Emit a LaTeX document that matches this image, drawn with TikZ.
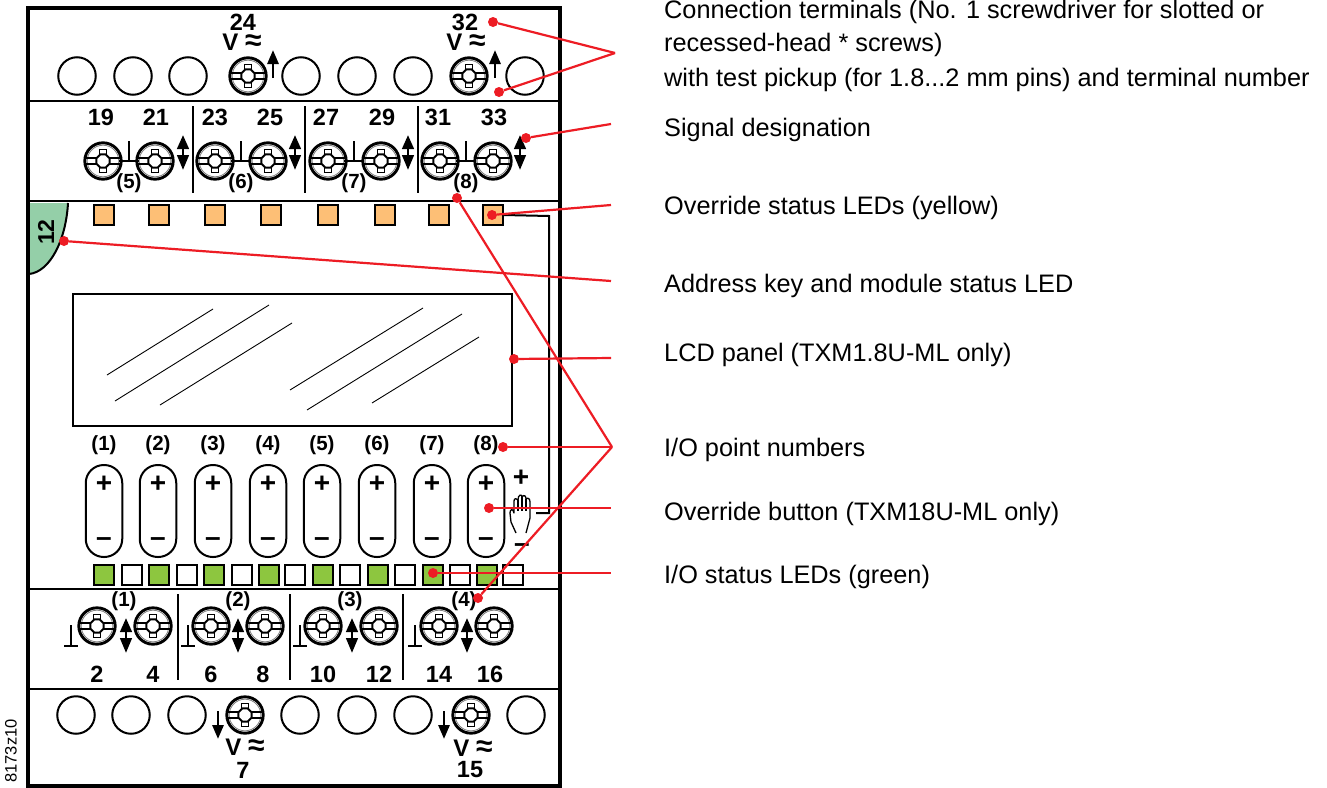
\documentclass[tikz,border=0pt]{standalone}
\usepackage{fontspec}
\setmainfont{Liberation Sans}
\usepackage{amsmath, amssymb}
\usetikzlibrary{arrows.meta}
\definecolor{ledorange}{HTML}{FDBF76}
\definecolor{ledgreen}{HTML}{8DC63F}
\definecolor{keygreen}{HTML}{94CFA8}
\definecolor{callred}{HTML}{ED1C24}
\newcommand{\vac}{\fontsize{24}{24}\selectfont V {\fontsize{30}{30}\selectfont≈}}
\begin{document}
\begin{tikzpicture}[
  x=1pt,y=-1pt,
  num/.style={inner sep=0pt,font=\fontsize{23.5}{24}\selectfont\bfseries},
  pnum/.style={inner sep=0pt,font=\fontsize{20.5}{24}\selectfont\bfseries},
  legend/.style={inner sep=0pt,anchor=base west,font=\fontsize{25.3}{28}\selectfont},
  sign/.style={inner sep=0pt,font=\fontsize{28}{28}\selectfont\bfseries},
  hole/.style={circle,draw,line width=2pt,minimum size=37.5pt,inner sep=0pt},
  led/.style={rectangle,draw,line width=1.9pt,minimum size=19.5pt,inner sep=0pt,fill=#1},
  led/.default=white,
  btn/.style={rectangle,rounded corners=18pt,draw,line width=2pt,minimum width=36.5pt,minimum height=92pt,inner sep=0pt},
  wall/.style={line width=2.2pt},
  up/.style={line width=2.8pt,-{Triangle[width=11pt,length=14pt]}},
  updown/.style={line width=2.8pt,{Triangle[width=11.5pt,length=14pt]}-{Triangle[width=11.5pt,length=15pt]}},
  rdot/.style={circle,fill=callred,inner sep=0pt,minimum size=10pt},
  leader/.style={callred,line width=2.2pt},
  screw/.pic={
    \draw[line width=2.9pt,fill=white] (0,0) circle (18.2pt);
    \draw[line width=.8pt,gray] (0,0) circle (15.8pt);
    \draw[line width=1.7pt] (-17,-3.2) -- (17,-3.2) (-17,3.2) -- (17,3.2);
    \draw[line width=1.5pt,fill=white] (-3.6,-11.5) rectangle (3.6,11.5);
    \draw[line width=1.9pt,fill=white] (-2.6,-6.6) -- (2.6,-6.6) -- (6.6,-2.6) -- (6.6,2.6) -- (2.6,6.6) -- (-2.6,6.6) -- (-6.6,2.6) -- (-6.6,-2.6) -- cycle;
  }
  ]
\useasboundingbox (0,0) rectangle (1327,787);
\fill[white] (0,0) rectangle (1327,787);

\fill[keygreen] (29,203) -- (68,203) .. controls (66,240) and (50,272) .. (29,274) -- cycle;
\draw[line width=2pt] (68,203) .. controls (66,240) and (50,272) .. (29,274);
\node[inner sep=0pt,rotate=90,font=\fontsize{23}{24}\selectfont\bfseries] (keyno) at (46,232) {12};

\draw[line width=3.2pt] (28,8) rectangle (560,786);
\foreach \y in {101,201,589,689}
  \draw[wall] (28,\y) -- (560,\y);

\foreach \x/\i in {77/1,133/2,188/3,301/4,357/5,413/6,525/7}
  \node[hole] (th\i) at (\x,76) {};
\foreach \x/\i in {76/1,131/2,187/3,300/4,357/5,413/6,526/7}
  \node[hole] (bh\i) at (\x,715) {};
\foreach \x in {248,469}
  \pic at (\x,76) {screw};
\foreach \x in {245,471}
  \pic at (\x,715) {screw};
\foreach \x in {103,155,215,268,328,381,440,493}
  \pic at (\x,161) {screw};
\foreach \x in {97,153,211,265,323,379,439,494}
  \pic at (\x,626) {screw};

\foreach \x in {273,495}
  \draw[up] (\x,78) -- (\x,50);
\foreach \x in {218,444}
  \draw[up] (\x,711) -- (\x,739);
\foreach \x in {183,295,408,520}
  \draw[updown] (\x,135) -- (\x,170);
\foreach \x in {126,238,352,467}
  \draw[updown] (\x,618) -- (\x,653);

\foreach \x in {129,241,354,466}
  \draw[line width=2.6pt] (\x,141) -- (\x,161) (\x-10,161) -- (\x+10,161);
\foreach \x in {71,188,300,415}
  \draw[line width=2.6pt] (\x,625) -- (\x,646) (\x-7,646) -- (\x+7,646);
\foreach \x in {193,305,418}
  \draw[wall] (\x,106) -- (\x,193);
\foreach \x in {178,290,403}
  \draw[wall] (\x,594) -- (\x,680);

\node[num] (t24) at (243,22) {24};
\node[num] (v24) at (242,42) {\vac};
\node[num] (t32) at (465,22) {32};
\node[num] (v32) at (466,42) {\vac};
\node[num] (v7) at (245,747) {\vac};
\node[num] (t7) at (243,770) {7};
\node[num] (v15) at (473,748) {\vac};
\node[num] (t15) at (470,770) {15};
\foreach \x/\n in {101/19,156/21,215/23,270/25,326/27,382/29,438/31,494/33}
  \node[num] (t\n) at (\x,117) {\n};
\foreach \x/\n in {97/2,153/4,211/6,263/8,323/10,379/12,439/14,490/16}
  \node[num] (t\n) at (\x,674) {\n};
\foreach \x/\n in {129/5,241/6,354/7,466/8}
  \node[pnum] (up\n) at (\x,183) {(\n)};
\foreach \x/\n in {124/1,238/2,350/3,464/4}
  \node[pnum] (lo\n) at (\x,601) {(\n)};

\foreach \x/\i in {104/1,159/2,215/3,271/4,328/5,385/6,439/7,493/8}
  \node[led=ledorange] (ov\i) at (\x,215) {};
\draw[line width=2pt] (ov8.east) -- (549,216) -- (549,513) -- (536,513);

\draw[line width=2.2pt] (73,294) -- (512,294) -- (512,426) -- (73,426) -- cycle;
\draw[line width=.9pt] (107,375) -- (213,309) (115,401) -- (269,305) (160,405) -- (292,323)
  (290,390) -- (423,308) (307,410) -- (462,314) (372,403) -- (479,337);

\foreach \x/\i in {104/1,158/2,213/3,268/4,322/5,377/6,432/7,486/8}{
  \node[pnum] (no\i) at (\x,445) {(\i)};
  \node[btn] (bt\i) at (\x,511) {};
  \node[sign] (pl\i) at (\x,484) {+};
  \node[sign] (mi\i) at (\x,542) {–};
}
\foreach \x/\i in {104/1,159/2,214/3,269/4,323/5,378/6,433/7,487/8}
  \node[led=ledgreen] (gr\i) at (\x,575) {};
\foreach \x/\i in {132/1,187/2,242/3,295/4,350/5,405/6,460/7,513/8}
  \node[led] (wh\i) at (\x,575) {};

\node[sign] (hplus) at (521,478) {+};
\node[sign] (hminus) at (522,548) {–};
\draw[line width=1.3pt,line join=round] (516,533) -- (511,522) -- (510,513) .. controls (510,509) and (513,508) .. (514,513)
  -- (514,501) .. controls (514,498) and (517,498) .. (518,500) .. controls (518,494) and (522,494) .. (522,497)
  .. controls (524,494) and (526,496) .. (526,499) .. controls (528,497) and (530,499) .. (530,502) -- (530,518) -- (526,533);
\draw[line width=1.3pt] (518,500) -- (518,511) (522,497) -- (522,511) (526,499) -- (526,511);

\node[inner sep=0pt,rotate=90,font=\fontsize{16.5}{18}\selectfont] (drawno) at (11,751) {8173z10};

\node[legend] (c1a) at (664,18) {Connection terminals (No. 1 screwdriver for slotted or};
\node[legend] (c1b) at (664,51) {recessed-head * screws)};
\node[legend] (c1c) at (664,86) {with test pickup (for 1.8...2 mm pins) and terminal number};
\node[legend] (c2) at (664,136) {Signal designation};
\node[legend] (c3) at (664,214) {Override status LEDs (yellow)};
\node[legend] (c4) at (664,292) {Address key and module status LED};
\node[legend] (c5) at (664,361) {LCD panel (TXM1.8U-ML only)};
\node[legend] (c6) at (664,456) {I/O point numbers};
\node[legend] (c7) at (664,520) {Override button (TXM18U-ML only)};
\node[legend] (c8) at (664,583) {I/O status LEDs (green)};

\coordinate (hub1) at (615,53);
\coordinate (hub2) at (611,124);
\coordinate (hub3) at (611,205);
\coordinate (hub4) at (611,281);
\coordinate (hub5) at (611,358);
\coordinate (hub6) at (612,447);
\coordinate (hub7) at (611,508);
\coordinate (hub8) at (611,573);
\foreach \x/\y/\n/\h in {493/22/a/1,499/92/b/1,526/138/c/2,492/215/d/3,64/241/e/4,514/359/f/5,503/447/g/6,457/198/h/6,478/598/i/6,489/508/j/7,433/573/k/8}{
  \node[rdot] (dot\n) at (\x,\y) {};
  \draw[leader] (dot\n) -- (hub\h);
}
\end{tikzpicture}
\end{document}
